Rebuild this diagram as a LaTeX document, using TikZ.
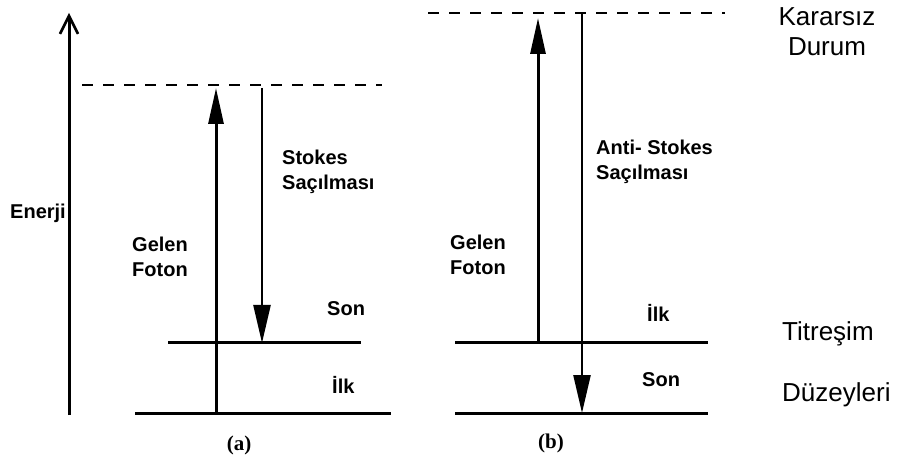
\documentclass[tikz,border=0pt]{standalone}
\usepackage{fontspec}
\setmainfont{Liberation Sans}
\newfontfamily\capfont{Liberation Serif}
\usetikzlibrary{arrows.meta}
\begin{document}
\begin{tikzpicture}[x=1pt,y=-1pt,
  level/.style={line width=3pt},
  axis/.style={line width=3pt,-{Straight Barb[length=18pt,width=18pt,line width=2.6pt]}},
  photon/.style={line width=3pt,-{Triangle[length=36pt,width=15pt]}},
  scatter/.style={line width=2.4pt,-{Triangle[length=38pt,width=17pt]}},
  virtual/.style={line width=1.8pt,dash pattern=on 11pt off 10pt},
  lbl/.style={font=\bfseries\fontsize{20}{25}\selectfont,align=left,anchor=west,inner sep=0pt},
  side/.style={font=\fontsize{26}{30}\selectfont,align=left,anchor=west,inner sep=0pt},
  tag/.style={font=\capfont\bfseries\fontsize{21}{24}\selectfont,inner sep=0pt}]
\useasboundingbox (0,0) rectangle (897,462);

% energy axis
\coordinate (e0) at (69,415);
\coordinate (e1) at (69,13);
\draw[axis] (e0) -- (e1);
\node[lbl] (enerji) at (10,213) {Enerji};

% (a) Stokes scattering
\coordinate (aG1) at (135,413); \coordinate (aG2) at (391,413);
\coordinate (aE1) at (168,343); \coordinate (aE2) at (361,343);
\coordinate (aV1) at (82,85);   \coordinate (aV2) at (382,85);
\draw[level] (aG1) -- (aG2);
\draw[level] (aE1) -- (aE2);
\draw[virtual] (aV1) -- (aV2);
\coordinate (aUp0) at (216,413); \coordinate (aUp1) at (216,88);
\coordinate (aDn0) at (262,88);  \coordinate (aDn1) at (262,343);
\draw[photon] (aUp0) -- (aUp1);
\draw[scatter] (aDn0) -- (aDn1);
\node[lbl] (aStokes) at (282,172) {Stokes\\Saçılması};
\node[lbl] (aGelen) at (132,257) {Gelen\\Foton};
\node[lbl] (aSon) at (327,309) {Son};
\node[lbl] (aIlk) at (332,385) {İlk};
\node[tag] (acap) at (239,445) {(a)};

% (b) anti-Stokes scattering
\coordinate (bG1) at (455,413); \coordinate (bG2) at (708,413);
\coordinate (bE1) at (455,343); \coordinate (bE2) at (708,343);
\coordinate (bV1) at (428,13);  \coordinate (bV2) at (725,13);
\draw[level] (bG1) -- (bG2);
\draw[level] (bE1) -- (bE2);
\draw[virtual] (bV1) -- (bV2);
\coordinate (bUp0) at (538,343); \coordinate (bUp1) at (538,18);
\coordinate (bDn0) at (582,13);  \coordinate (bDn1) at (582,413);
\draw[photon] (bUp0) -- (bUp1);
\draw[scatter] (bDn0) -- (bDn1);
\node[lbl] (bAnti) at (596,162) {Anti- Stokes\\Saçılması};
\node[lbl] (bGelen) at (450,255) {Gelen\\Foton};
\node[lbl] (bIlk) at (647,313) {İlk};
\node[lbl] (bSon) at (642,380) {Son};
\node[tag] (bcap) at (551,443) {(b)};

% side labels
\node[side,align=center,anchor=center] (karar) at (827,32) {Kararsız\\Durum};
\node[side] (titr) at (782,334) {Titreşim};
\node[side] (duz) at (782,395) {Düzeyleri};
\end{tikzpicture}
\end{document}
